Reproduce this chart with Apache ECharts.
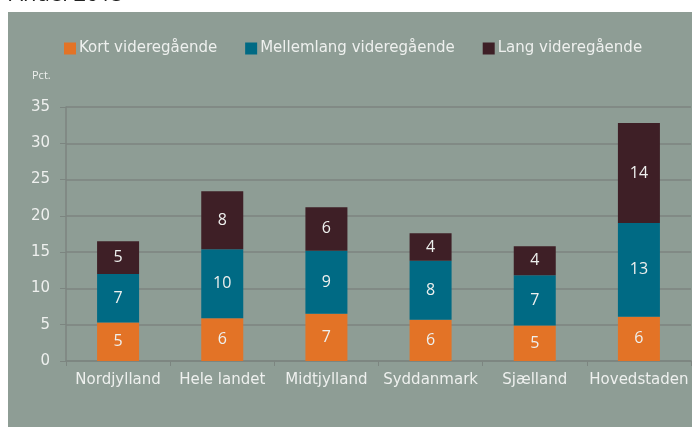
<!DOCTYPE html>
<html>
<head>
<meta charset="utf-8">
<script src="https://cdn.jsdelivr.net/npm/echarts@6/dist/echarts.min.js"></script>
<style>
  html, body { margin: 0; padding: 0; background: #fff; }
  #chart { width: 692px; height: 427px; }
</style>
</head>
<body>
<div id="chart"></div>
<script>
  const regions = ['Nordjylland', 'Hele landet', 'Midtjylland', 'Syddanmark', 'Sjælland', 'Hovedstaden']
  const kort = [5.3, 5.9, 6.5, 5.7, 4.9, 6.1]
  const mellemlang = [6.7, 9.5, 8.7, 8.1, 6.9, 12.9]
  const lang = [4.5, 8.0, 6.0, 3.8, 4.0, 13.8]

  const font = 'Open Sans'
  const wide = 'DejaVu Sans'
  const txt = '#eef0ee'

  const chart = echarts.init(document.getElementById('chart'))

  const barLabel = {
    show: true,
    position: 'inside',
    color: txt,
    fontFamily: font,
    fontSize: 16,
    formatter: p => Math.round(p.value),
  }

  const option = {
    backgroundColor: '#ffffff',
    animation: false,
    graphic: [
      {
        type: 'rect',
        z: -100,
        silent: true,
        shape: { x: 8, y: 12, width: 684, height: 415 },
        style: { fill: '#8e9d95' },
      },
      {
        type: 'text',
        left: 9,
        top: -16,
        silent: true,
        style: { text: 'Andel 2015', fill: '#222', font: '22px ' + font },
      },
      {
        type: 'text',
        left: 32,
        top: 70,
        silent: true,
        style: { text: 'Pct.', fill: txt, font: '11px ' + font },
      },
    ],
    legend: {
      top: 41,
      left: 64,
      padding: 0,
      itemWidth: 12,
      itemHeight: 12,
      itemGap: 28,
      icon: 'rect',
      textStyle: { color: txt, fontFamily: wide, fontSize: 15, padding: [0, 0, 0, -2] },
      data: ['Kort videregående', 'Mellemlang videregående', 'Lang videregående'],
    },
    grid: { left: 66, right: 1, top: 107, bottom: 66, containLabel: false },
    xAxis: {
      type: 'category',
      data: regions,
      axisLine: { lineStyle: { color: '#7c8580', width: 1.5 } },
      axisTick: { show: true, length: 5, lineStyle: { color: '#7c8580' } },
      axisLabel: { color: txt, fontFamily: wide, fontSize: 15, margin: 12, interval: 0 },
    },
    yAxis: {
      type: 'value',
      min: 0,
      max: 35,
      interval: 5,
      axisLine: { show: true, lineStyle: { color: '#7c8580', width: 1.5 } },
      axisTick: { show: true, length: 6, lineStyle: { color: '#7c8580' } },
      splitLine: { lineStyle: { color: '#7c8580', width: 1.5 } },
      axisLabel: { color: txt, fontFamily: wide, fontSize: 15, margin: 16 },
    },
    series: [
      {
        name: 'Kort videregående',
        type: 'bar',
        stack: 'total',
        barWidth: 42,
        itemStyle: { color: '#e37326' },
        label: barLabel,
        data: kort,
      },
      {
        name: 'Mellemlang videregående',
        type: 'bar',
        stack: 'total',
        barWidth: 42,
        itemStyle: { color: '#006a84' },
        label: barLabel,
        data: mellemlang,
      },
      {
        name: 'Lang videregående',
        type: 'bar',
        stack: 'total',
        barWidth: 42,
        itemStyle: { color: '#3e1f26' },
        label: barLabel,
        data: lang,
      },
    ],
  }
  chart.setOption(option)
</script>
</body>
</html>
